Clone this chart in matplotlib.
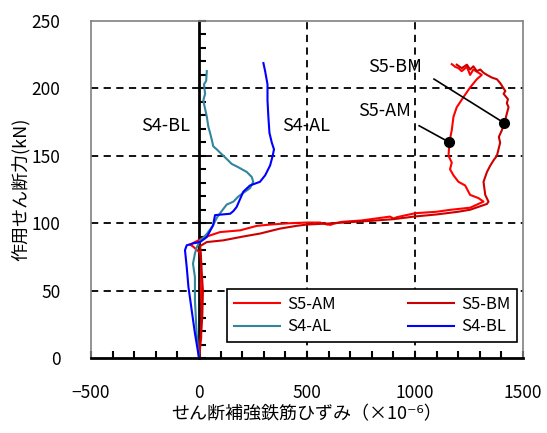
import numpy as np
import matplotlib
matplotlib.use('Agg')
import matplotlib.pyplot as plt
from matplotlib.ticker import MultipleLocator

plt.rcParams['font.family'] = ['Noto Sans CJK JP', 'DejaVu Sans']

# strain (x1e-6) and shear force (kN)
s5am_x = [0, 10, 12, 8, 10, 5, -30, -42, -19, 28, 97, 190, 267, 330, 420, 499, 560, 593, 610, 620,
          660, 750, 884, 900, 917, 1000, 1100, 1162, 1255, 1317,
          1294, 1255, 1232, 1201, 1178, 1162, 1170, 1155, 1159, 1170, 1178, 1193, 1224, 1255,
          1286, 1309, 1294, 1270, 1255, 1240, 1216, 1201, 1186, 1170]
s5am_y = [0, 15, 35, 55, 70, 78, 83, 84, 86, 89.7, 93.4, 94.7, 98, 99, 100, 100.5, 100.5, 99, 98.8, 99.5,
          101, 102, 104.9, 103.5, 104.5, 107.4, 108.5, 109.9, 111.5, 116,
          118.6, 121, 128, 130.7, 135.5, 140, 145, 150, 160, 169, 179, 186, 193.5, 200.7,
          206.8, 210, 211.6, 214, 210, 216, 212.8, 215, 216, 218]

s5bm_x = [0, 5, 15, 18, 12, 8, 5, 36, 113, 200, 282, 375, 450, 499, 600, 700, 800, 900, 1000, 1100,
          1200, 1255, 1333, 1340,
          1325, 1317, 1333, 1348, 1365, 1379, 1394, 1388, 1402, 1414, 1425, 1433, 1425, 1430,
          1410, 1418, 1394, 1379, 1356, 1333, 1317, 1302, 1286, 1270, 1255, 1240, 1216, 1193]
s5bm_y = [0, 12, 30, 50, 65, 78, 83, 86, 87.3, 90, 92.3, 96, 98, 99, 99.8, 100.8, 101.8, 103, 105, 106.5,
          108.5, 110, 114.3, 116,
          121, 130.7, 138, 142.7, 147, 150, 159.7, 164, 169, 174.2, 181.4, 186, 189, 192,
          196, 198, 204, 206.8, 208, 210, 211.6, 214, 212.8, 216.4, 214, 217.6, 215, 217.6]

s4al_x = [0, -11, -19, -19, -28, -19, -11, 5, 36, 65, 82, 105, 128, 159, 182, 213, 236, 251, 244,
          221, 182, 151, 136, 113, 97, 82, 66, 59, 51, 43, 36, 23, 20, 28, 23, 33, 36]
s4al_y = [0, 18, 43, 60, 70, 77.5, 82, 87, 92, 98.4, 104, 109, 113.8, 116, 119.8, 123.4, 126, 130.7,
          134.3, 138, 141.5, 144, 146.4, 150, 152.4, 154.8, 157, 162, 167, 171.7, 179, 188.6,
          191, 196, 203, 205.6, 212.8]

s4bl_x = [0, -19, -34, -49, -57, -65, -57, -28, 5, 36, 65, 74, 144, 159, 174, 205, 236, 282, 306,
          329, 341, 347, 337, 326, 321, 317, 317, 306, 298]
s4bl_y = [0, 18.4, 35.5, 52.7, 67.5, 80, 83.6, 85, 86, 89.7, 98.4, 106, 107, 109, 112, 123.4, 128,
          130.7, 135.5, 142.8, 150, 154.8, 159.7, 167, 179, 191, 203, 212.8, 218.8]

# annotation points
dot_am = (1159, 160)
dot_bm = (1414, 174.2)

fig = plt.figure(figsize=(5.47, 4.33), dpi=100)
ax = fig.add_axes([0.1664, 0.1732, 0.7898, 0.7783])

l_am, = ax.plot(s5am_x, s5am_y, color='#FF0000', lw=1.5, label='S5-AM', zorder=3)
l_bm, = ax.plot(s5bm_x, s5bm_y, color='#CC0000', lw=1.5, label='S5-BM', zorder=3)
l_al, = ax.plot(s4al_x, s4al_y, color='#31859C', lw=1.5, label='S4-AL', zorder=3)
l_bl, = ax.plot(s4bl_x, s4bl_y, color='#0000FF', lw=1.5, label='S4-BL', zorder=3)

ax.set_xlim(-500, 1500)
ax.set_ylim(0, 250)
xt = np.arange(-500, 1501, 500)
yt = np.arange(0, 251, 50)
ax.set_xticks(xt)
ax.set_yticks(yt)
ax.xaxis.set_minor_locator(MultipleLocator(100))

for v in xt[1:-1]:
    if v != 0:
        ax.axvline(v, color='k', lw=1.3, ls=(0, (4, 3)), zorder=1)
for v in yt[1:-1]:
    ax.axhline(v, color='k', lw=1.3, ls=(0, (4, 3)), zorder=1)

for s in ['left', 'top', 'right']:
    ax.spines[s].set_color('#808080')
    ax.spines[s].set_linestyle((0, (1, 1)))
    ax.spines[s].set_linewidth(1.2)
ax.spines['bottom'].set_linewidth(2)
ax.spines['bottom'].set_zorder(5)

ax.tick_params(axis='x', which='both', direction='in', length=5, width=1.5,
               pad=19, labelsize=12.5)
ax.tick_params(axis='y', which='both', length=0, pad=22, labelsize=12.5)

# vertical axis crossing at zero strain
sec = ax.secondary_yaxis(0, transform=ax.transData)
sec.set_yticks(yt)
sec.yaxis.set_minor_locator(MultipleLocator(10))
sec.tick_params(which='both', direction='in', length=5, width=1.5, labelleft=False, labelright=False)
sec.spines['left'].set_linewidth(2)

ax.set_xlabel('せん断補強鉄筋ひずみ（×10⁻⁶）', fontsize=13, labelpad=2)
ax.set_ylabel('作用せん断力(kN)', fontsize=13, labelpad=1)

ax.text(-157, 172, 'S4-BL', fontsize=13, ha='center', va='center')
ax.text(495, 172, 'S4-AL', fontsize=13, ha='center', va='center')
ax.text(907, 216, 'S5-BM', fontsize=13, ha='center', va='center')
ax.text(857, 183.4, 'S5-AM', fontsize=13, ha='center', va='center')

ax.plot([1088, dot_bm[0]], [206.9, dot_bm[1]], color='k', lw=1.2, zorder=4)
ax.plot([1019, dot_am[0]], [172.3, dot_am[1]], color='k', lw=1.2, zorder=4)
ax.plot(*dot_bm, 'o', color='k', ms=7, zorder=5)
ax.plot(*dot_am, 'o', color='k', ms=7, zorder=5)

# legend rows: S5-AM S5-BM / S4-AL S4-BL
leg = ax.legend([l_am, l_al, l_bm, l_bl], ['S5-AM', 'S4-AL', 'S5-BM', 'S4-BL'],
                ncol=2, loc='lower left', bbox_to_anchor=(0.315, 0.047, 0.671, 0.155),
                mode='expand', fontsize=12, frameon=True, fancybox=False,
                handlelength=2.8, borderaxespad=0, handletextpad=0.4, labelspacing=0.35)
leg.get_frame().set_edgecolor('k')
leg.get_frame().set_linewidth(1.2)
leg.get_frame().set_alpha(1)

fig.savefig('out.png', dpi=100)
